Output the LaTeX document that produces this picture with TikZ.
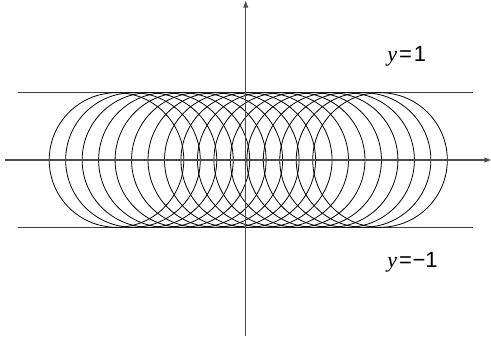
\documentclass[tikz,border=0pt]{standalone}
\usepackage{fontspec}
\setmainfont{Liberation Sans}
\newfontfamily\yfont{Liberation Serif}
\usetikzlibrary{arrows.meta}
\begin{document}
\begin{tikzpicture}[x=0.75pt,y=-0.75pt,
  axis/.style={line width=0.8pt,draw=black!70,-{Triangle[length=5pt,width=3.6pt]}},
  bound/.style={line width=0.8pt,draw=black!75},
  circ/.style={line width=0.6pt,draw=black},
  lbl/.style={font=\fontsize{16.5}{18}\selectfont,inner sep=0pt,anchor=west}]
\useasboundingbox (0,0) rectangle (491,338);
% horizontal bounds
\coordinate (tl) at (18,92.7);
\coordinate (tr) at (473,92.7);
\coordinate (bl) at (18,227.4);
\coordinate (br) at (473,227.4);
\draw[bound] (tl) -- (tr);
\draw[bound] (bl) -- (br);
% circles
\foreach \k in {0,...,16}{
  \draw[circ] ({116.5+16.47*\k},160) circle[radius=67.3];
}
% axes
\coordinate (xs) at (5,160);
\coordinate (xe) at (491,160);
\coordinate (ys) at (245.7,336);
\coordinate (ye) at (245.7,1);
\draw[axis] (xs) -- (xe);
\draw[axis] (ys) -- (ye);
% labels
\node[lbl] (l1) at (387,56) {{\yfont\itshape y}\hspace{1.5pt}=\hspace{1.5pt}1};
\node[lbl] (l2) at (387,262) {{\yfont\itshape y}\hspace{1.5pt}=\hspace{0.5pt}\textminus1};
\end{tikzpicture}
\end{document}
